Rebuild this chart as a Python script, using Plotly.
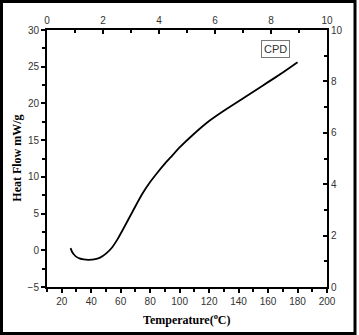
import plotly.graph_objects as go

# DSC scan of the CPD sample
temperature = [26, 27, 28, 30, 32, 35, 38, 42, 46, 50, 54, 58, 62, 66, 70, 75, 80,
               85, 90, 95, 100, 110, 120, 130, 140, 150, 160, 170, 180]
heat_flow = [0.3, -0.2, -0.5, -0.9, -1.1, -1.25, -1.3, -1.25, -1.0, -0.45, 0.35, 1.55,
             3.0, 4.5, 6.0, 7.8, 9.3, 10.6, 11.8, 12.9, 14.0, 15.9, 17.6, 19.0,
             20.3, 21.6, 22.9, 24.2, 25.6]

series_label = "CPD"
x_title = "<b>Temperature(<sup>o</sup>C)</b>"
y_title = "<b>Heat Flow mW/g</b>"

tick_font = dict(family="Liberation Sans, Arial", size=10, color="#333333")
title_font = dict(family="Liberation Serif, Times New Roman", size=12, color="black")

fig = go.Figure()
fig.add_trace(go.Scatter(
    x=temperature, y=heat_flow, mode="lines",
    line=dict(color="black", width=1.8, shape="spline", smoothing=0.4),
    showlegend=False, hoverinfo="skip",
))
# empty trace so that the secondary (top / right) axes get drawn
fig.add_trace(go.Scatter(x=[], y=[], xaxis="x2", yaxis="y2",
                         showlegend=False, hoverinfo="skip"))

axis_common = dict(
    showline=True, linecolor="black", linewidth=2, showgrid=False, zeroline=False,
    tickfont=tick_font, tickcolor="black", tickwidth=2, ticklen=4,
)

fig.update_layout(
    width=359, height=335,
    margin=dict(l=47, r=32, t=30, b=48),
    paper_bgcolor="white", plot_bgcolor="white",
    xaxis=dict(range=[10, 200], dtick=20, tick0=0, ticks="outside",
               minor=dict(dtick=10, ticks="outside", ticklen=3, tickwidth=1.5, tickcolor="black"),
               **axis_common),
    yaxis=dict(range=[-5, 30], dtick=5, tick0=0, ticks="outside",
               minor=dict(dtick=2.5, ticks="outside", ticklen=3, tickwidth=1.5, tickcolor="black"),
               **axis_common),
    xaxis2=dict(range=[0, 10], dtick=2, tick0=0, side="top", overlaying="x", anchor="y2",
                ticks="inside",
                minor=dict(dtick=1, ticks="inside", ticklen=3, tickwidth=1.5, tickcolor="black"),
                **axis_common),
    yaxis2=dict(range=[0, 10], dtick=2, tick0=0, side="right", overlaying="y", anchor="x2",
                ticks="inside",
                minor=dict(dtick=1, ticks="inside", ticklen=3, tickwidth=1.5, tickcolor="black"),
                **axis_common),
    annotations=[
        dict(text=y_title, xref="paper", yref="paper", x=-0.11, y=0.5, textangle=-90,
             showarrow=False, font=title_font, xanchor="center", yanchor="middle"),
        dict(text=x_title, xref="paper", yref="paper", x=0.5, y=-0.125,
             showarrow=False, font=title_font, xanchor="center", yanchor="middle"),
        dict(text=series_label, xref="paper", yref="paper", x=0.817, y=0.925,
             showarrow=False, xanchor="center", yanchor="middle",
             font=dict(family="Liberation Sans, Arial", size=11, color="#333333"),
             bordercolor="#777777", borderwidth=1, borderpad=2, bgcolor="white"),
    ],
    shapes=[
        # outer frame around the whole figure
        dict(type="rect", xref="paper", yref="paper",
             x0=-0.1625, x1=1.1, y0=-0.181, y1=1.111,
             line=dict(color="black", width=3), layer="above"),
    ],
)

fig.write_html("out.html")
